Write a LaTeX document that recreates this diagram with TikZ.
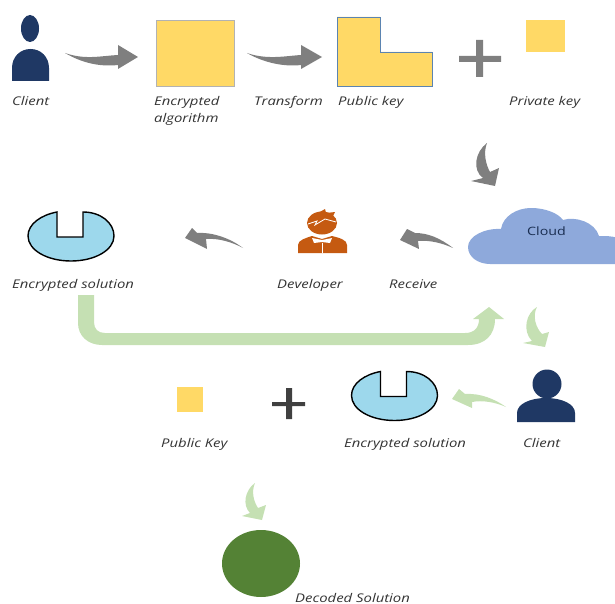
\documentclass[tikz,border=0pt]{standalone}
\usepackage{fontspec}
\setmainfont{Open Sans}
\newfontfamily\widefont[FakeStretch=1.24]{Open Sans}
\usetikzlibrary{positioning, shapes.geometric}
\definecolor{keyyellow}{HTML}{FFD966}
\definecolor{navy}{HTML}{1F3864}
\definecolor{arrowgrey}{HTML}{7F7F7F}
\definecolor{arrowgreen}{HTML}{C5E0B3}
\definecolor{devorange}{HTML}{C55A11}
\definecolor{cloudblue}{HTML}{8EA9DB}
\definecolor{bowlblue}{HTML}{9DD8EC}
\definecolor{doneggreen}{HTML}{548235}
\definecolor{keyedge}{HTML}{5B84B1}
\tikzset{
x=1pt, y=-1pt, % one unit is one pixel of the picture, counted from the top
caption/.style={anchor=base west, inner sep=0pt, font=\widefont\fontsize{12}{14}\selectfont\itshape, text=black!80}, % the italic labels
keybox/.style={fill=keyyellow, inner sep=0pt}, % the yellow squares
greyarrow/.style={fill=arrowgrey},
greenarrow/.style={fill=arrowgreen},
pics/bowl/.style={code={
\draw [fill=bowlblue, line width=1.4pt] (12,-24) .. controls (30,-24) and (43,-13) .. (43,0) .. controls (43,14) and (24,25) .. (0,25) .. controls (-24,25) and (-43,14) .. (-43,0) .. controls (-43,-12) and (-30,-21) .. (-14,-24) -- (-14,1) -- (12,1) -- cycle;
}},
}
\begin{document}
\begin{tikzpicture}
\useasboundingbox (0,0) rectangle (615,604);

% top row
\node[ellipse, fill=navy, minimum width=18pt, minimum height=27pt, inner sep=0pt] (headA) at (30,28.5) {};
\fill[navy] (12,81) -- (12,68) .. controls (12,57) and (20,49) .. (30.5,49) .. controls (41,49) and (49,57) .. (49,68) -- (49,81) -- cycle;
\node[caption] (clientA) at (12,106) {Client};
\node[keybox, draw=black!30, thick, minimum width=78pt, minimum height=66pt] (algo) at (195,53) {};
\node[caption] (encA) at (154,106) {Encrypted};
\node[caption] (encB) at (154,123) {algorithm};
\node[caption] (transform) at (254,106) {Transform};
\draw[fill=keyyellow, draw=keyedge, thick] (337,17) -- (380,17) -- (380,52) -- (432,52) -- (432,86) -- (337,86) -- cycle;
\node[caption] (pubkey) at (338,106) {Public key};
\fill[arrowgrey] (459,56) rectangle (501,62) (476,40) rectangle (483,77);
\node[keybox, minimum width=39pt, minimum height=32pt] (privbox) at (545.5,36) {};
\node[caption] (privkey) at (509,106) {Private key};

% middle row
\fill[cloudblue] (490,264) .. controls (478,264) and (468,257) .. (468,247) .. controls (468,236) and (485,228) .. (501,229) .. controls (503,216) and (517,208) .. (531,208) .. controls (545,208) and (558,213) .. (563,220) .. controls (575,216) and (595,222) .. (599,236) .. controls (606,236) and (612,236) .. (618,238) -- (618,264) -- cycle;
\node[anchor=base west, inner sep=0pt, font=\widefont\fontsize{11.5}{12}\selectfont, text=navy!80!black] (cloud) at (527,235) {Cloud};
\node[caption] (receive) at (389,288) {Receive};
\node[ellipse, fill=devorange, minimum width=30pt, minimum height=23pt, inner sep=0pt] (devhead) at (322,223) {};
\fill[devorange] (318,213) -- (325,209) -- (326,213) -- (335,212) -- (332,218) -- cycle;
\draw[white, line width=.8pt] (308,224) -- (317,221) -- (315,225) -- (325,219) -- (336,222);
\fill[devorange] (298,253) -- (298,245) .. controls (298,240) and (306,238) .. (312,236) -- (322,239) -- (332,236) .. controls (340,238) and (347,240) .. (347,245) -- (347,253) -- cycle;
\fill[white] (312,238) -- (322,240) -- (332,238) -- (330,243) -- (322,242) -- (314,243) -- cycle;
\draw[white, line width=.7pt] (322,243) -- (322,253);
\node[caption] (developer) at (277,288) {Developer};
\pic (bowlA) at (71,236) {bowl};
\node[caption] (solA) at (12,288) {Encrypted solution};

% lower row
\node[circle, fill=navy, minimum size=29pt, inner sep=0pt] (headB) at (547,384) {};
\fill[navy] (517,422) -- (517,413) .. controls (517,404) and (530,398) .. (546,398) .. controls (562,398) and (575,404) .. (575,413) -- (575,422) -- cycle;
\node[caption] (clientB) at (523,447) {Client};
\pic (bowlB) at (394.5,395.5) {bowl};
\node[caption] (solB) at (344,447) {Encrypted solution};
\fill[black!75] (272,402) rectangle (305,406) (286,388) rectangle (292,419);
\node[keybox, minimum width=26pt, minimum height=25pt] (pubbox) at (190,399.5) {};
\node[caption] (pubkeyB) at (161,447) {Public Key};
\node[ellipse, fill=doneggreen, minimum width=78pt, minimum height=67pt, inner sep=0pt] (decoded) at (261,563.5) {};
\node[caption] (decodedtxt) at (295,602) {Decoded Solution};

% arrow ends
\coordinate (clienttail) at (65,53);
\coordinate (algotip) at (138,57);
\coordinate (algotail) at (247,53);
\coordinate (keytip) at (322,57);
\coordinate (privtail) at (487,143);
\coordinate (cloudtip) at (495,186);
\coordinate (cloudtail) at (453,248);
\coordinate (devtip) at (400,240);
\coordinate (devtail) at (243,248);
\coordinate (soltip) at (185,238);
\coordinate (clienttailB) at (506,407);
\coordinate (soltipB) at (452,399);
\coordinate (cloudtailB) at (537,307);
\coordinate (clienttipB) at (545,347);
\coordinate (plustail) at (255,483);
\coordinate (decodedtip) at (262,520);

% edges
\fill[greyarrow] (clienttail) .. controls (85,60) and (100,56) .. (118,55) -- (118,45) -- (algotip) -- (118,69) -- (118,65) .. controls (100,67) and (82,63) .. (clienttail); % client to algorithm
\fill[greyarrow] (algotail) .. controls (267,60) and (285,56) .. (301,55) -- (301,45) -- (keytip) -- (301,69) -- (301,65) .. controls (285,67) and (264,63) .. (algotail); % algorithm to key
\fill[greyarrow] (privtail) .. controls (475,152) and (472,170) .. (483,178) -- (471,181) -- (cloudtip) -- (499,168) -- (490,172) .. controls (486,165) and (483,153) .. (privtail); % keys to cloud
\fill[greyarrow] (cloudtail) .. controls (440,238) and (428,233) .. (415,233) -- (407,229) -- (devtip) -- (419,249) -- (418,241) .. controls (430,240) and (442,243) .. (cloudtail); % cloud to developer
\fill[greyarrow] (devtail) .. controls (230,238) and (212,232) .. (197,233) -- (192,228) -- (soltip) -- (207,249) -- (206,239) .. controls (218,238) and (232,242) .. (devtail); % developer to solution
\fill[greenarrow] (78,295) -- (78,323) .. controls (78,336) and (88,345) .. (102,345) -- (468,345) .. controls (485,345) and (495,335) .. (495,319) -- (504,319) -- (489,307) -- (473,319) -- (479,319) .. controls (479,328) and (474,333) .. (465,333) -- (105,333) .. controls (98,333) and (94,329) .. (94,322) -- (94,295) -- cycle; % solution to cloud
\fill[greenarrow] (cloudtailB) .. controls (526,313) and (522,331) .. (532,341) -- (523,343) -- (clienttipB) -- (549,332) -- (542,334) .. controls (536,328) and (532,316) .. (cloudtailB); % cloud to client
\fill[greenarrow] (clienttailB) .. controls (495,399) and (480,393) .. (465,394) -- (459,389) -- (soltipB) -- (472,408) -- (472,402) .. controls (482,400) and (495,402) .. (clienttailB); % client to solution
\fill[greenarrow] (plustail) .. controls (245,490) and (242,505) .. (250,513) -- (242,516) -- (decodedtip) -- (266,505) -- (258,508) .. controls (254,502) and (251,492) .. (plustail); % sum to decoded
\end{tikzpicture}
\end{document}
